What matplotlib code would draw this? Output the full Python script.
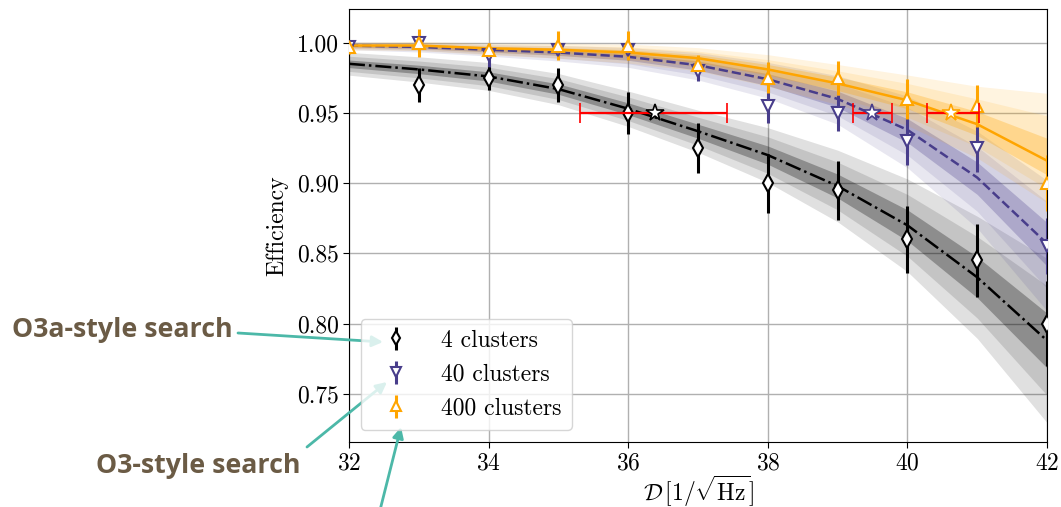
import matplotlib
matplotlib.use("Agg")
import matplotlib.pyplot as plt
import numpy as np

# fitted efficiency curves (at integer D)
fit_x = [32, 33, 34, 35, 36, 37, 38, 39, 40, 41, 42]
black_fit = [0.985, 0.981, 0.976, 0.967, 0.953, 0.937, 0.920, 0.898, 0.870, 0.833, 0.788]
black_sig_up = [0.0027, 0.003, 0.0033, 0.0037, 0.0042, 0.005, 0.0065, 0.0085, 0.011, 0.0145, 0.0195]
black_sig_dn = [0.0027, 0.003, 0.0033, 0.0037, 0.0042, 0.005, 0.0065, 0.0085, 0.011, 0.0145, 0.0195]
purple_fit = [0.998, 0.997, 0.995, 0.993, 0.990, 0.984, 0.974, 0.960, 0.938, 0.904, 0.857]
purple_sig_up = [0.0008, 0.001, 0.0013, 0.0017, 0.0022, 0.003, 0.004, 0.0055, 0.008, 0.011, 0.015]
purple_sig_dn = [0.001, 0.0012, 0.0015, 0.002, 0.0025, 0.0035, 0.0045, 0.006, 0.009, 0.012, 0.016]
orange_fit = [0.998, 0.998, 0.996, 0.995, 0.993, 0.989, 0.981, 0.971, 0.959, 0.942, 0.916]
orange_sig_up = [0.0008, 0.001, 0.0012, 0.0015, 0.002, 0.0025, 0.0035, 0.0045, 0.006, 0.009, 0.016]
orange_sig_dn = [0.001, 0.0012, 0.0015, 0.002, 0.0025, 0.003, 0.004, 0.005, 0.006, 0.008, 0.010]

# measured points
black_x = [33, 34, 35, 36, 37, 38, 39, 40, 41, 42]
black_y = [0.970, 0.975, 0.970, 0.950, 0.925, 0.900, 0.895, 0.860, 0.845, 0.800]
black_err = [0.012, 0.009, 0.012, 0.015, 0.018, 0.021, 0.021, 0.024, 0.026, 0.030]
purple_x = [32, 33, 34, 35, 36, 37, 38, 39, 40, 41, 42]
purple_y = [0.997, 1.000, 0.991, 0.995, 0.995, 0.980, 0.955, 0.950, 0.930, 0.925, 0.855]
purple_err = [0.004, 0.004, 0.008, 0.005, 0.006, 0.007, 0.012, 0.013, 0.017, 0.017, 0.020]
orange_x = [32, 33, 34, 35, 36, 37, 38, 39, 40, 41, 42]
orange_y = [0.997, 1.000, 0.995, 0.998, 0.998, 0.984, 0.975, 0.975, 0.960, 0.955, 0.900]
orange_err = [0.005, 0.010, 0.005, 0.010, 0.010, 0.007, 0.011, 0.012, 0.014, 0.015, 0.020]

# 95% sensitivity depth markers (red horizontal bars)
star_x = [36.38, 39.50, 40.62]
star_y = [0.95, 0.95, 0.95]
star_xlo = [1.07, 0.28, 0.34]
star_xhi = [1.04, 0.28, 0.40]

labels = ["4 clusters", "40 clusters", "400 clusters"]
PURPLE = "#483D8B"
ORANGE = "#FFA500"

plt.rcParams["font.family"] = "serif"
plt.rcParams["font.serif"] = ["cmr10"]
plt.rcParams["mathtext.fontset"] = "cm"
plt.rcParams["axes.formatter.use_mathtext"] = True

fig = plt.figure(figsize=(10.61, 5.07), dpi=100)
ax = fig.add_axes([0.3289, 0.1282, 0.6579, 0.854])

series = [
    (black_fit, black_sig_up, black_sig_dn, "k", "-."),
    (purple_fit, purple_sig_up, purple_sig_dn, PURPLE, "--"),
    (orange_fit, orange_sig_up, orange_sig_dn, ORANGE, "-"),
]
for fit, su, sd, c, ls in series:
    fit = np.array(fit); su = np.array(su); sd = np.array(sd)
    for n, a in [(3, 0.12), (2, 0.12), (1, 0.28)]:
        ax.fill_between(fit_x, fit - n * sd, fit + n * su, color=c, alpha=a, lw=0)
    ax.plot(fit_x, fit, ls=ls, color=c, lw=1.8)

handles = []
for x, y, e, c, m in [(black_x, black_y, black_err, "k", "d"),
                      (purple_x, purple_y, purple_err, PURPLE, "v"),
                      (orange_x, orange_y, orange_err, ORANGE, "^")]:
    h = ax.errorbar(x, y, yerr=e, fmt=m, color=c, mfc="white", mec=c,
                    ms=9, mew=1.5, elinewidth=2.2, capsize=0, zorder=4)
    handles.append(h)

for xs, ys, lo, hi, ec in zip(star_x, star_y, star_xlo, star_xhi, ["k", PURPLE, ORANGE]):
    ax.errorbar([xs], [ys], xerr=[[lo], [hi]], fmt="*", color="red", ecolor="red",
                mfc="white", mec=ec, ms=13, mew=1.2, elinewidth=1.6,
                capsize=7, capthick=1.6, zorder=6)

ax.set_xlim(32, 42)
ax.set_ylim(0.7157, 1.024)
ax.set_xticks([32, 34, 36, 38, 40, 42])
ax.set_yticks([0.75, 0.80, 0.85, 0.90, 0.95, 1.00])
ax.set_yticklabels(["0.75", "0.80", "0.85", "0.90", "0.95", "1.00"])
ax.tick_params(labelsize=17, length=4)
ax.grid(True, color="#b0b0b0", lw=1)
ax.set_axisbelow(True)
ax.set_xlabel(r"$\mathcal{D}\,[1/\sqrt{\mathrm{Hz}}]$", fontsize=17, labelpad=-1)
ax.set_ylabel("Efficiency", fontsize=17, labelpad=6)

ax.legend(handles, labels, loc="lower left", fontsize=17, handlelength=2.1,
          handletextpad=0.85, labelspacing=0.5, borderpad=0.45, markerscale=0.75,
          framealpha=0.8)

# annotations outside the axes
txt_color = "#6b5b45"
arr_color = "#4cb8a8"
fig.text(12 / 1061, 1 - 330 / 507, "O3a-style search", family="Open Sans",
         weight="bold", fontsize=19.3, color=txt_color, va="center", ha="left")
fig.text(300 / 1061, 1 - 466 / 507, "O3-style search", family="Open Sans",
         weight="bold", fontsize=19.3, color=txt_color, va="center", ha="right")

arrows = [((238, 333), (383, 342)), ((307, 447), (387, 382)), ((375, 530), (401, 427))]
for (x0, y0), (x1, y1) in arrows:
    ax.annotate("", xy=(x1, 507 - y1), xycoords="figure pixels",
                xytext=(x0, 507 - y0), textcoords="figure pixels",
                arrowprops=dict(arrowstyle="-|>", color=arr_color, lw=2,
                                mutation_scale=16, shrinkA=0, shrinkB=0),
                annotation_clip=False)

fig.savefig("out.png", dpi=100)
